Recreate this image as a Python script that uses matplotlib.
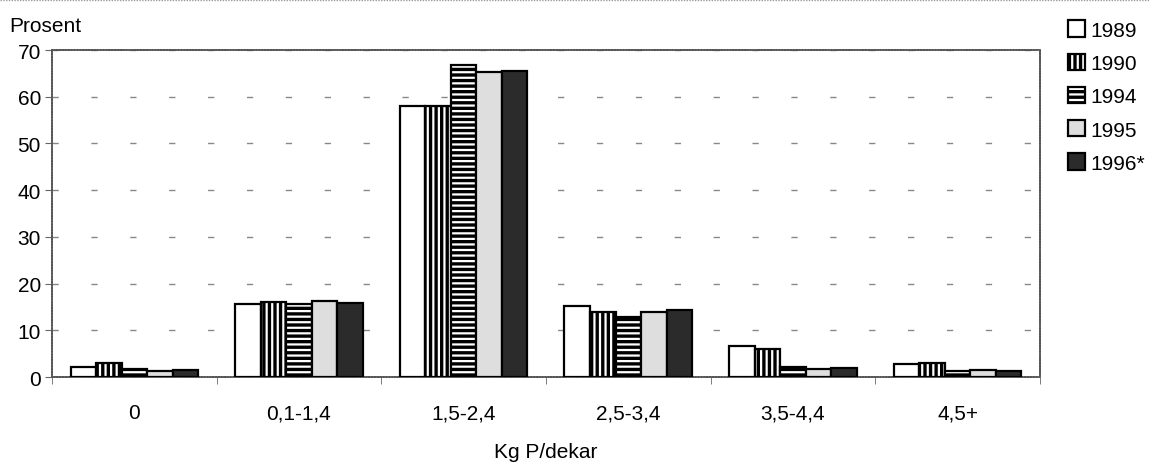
import matplotlib.pyplot as plt
import numpy as np

plt.rcParams['font.family'] = ['Liberation Sans', 'DejaVu Sans']
plt.rcParams['hatch.linewidth'] = 2.4

# data
categories = ["0", "0,1-1,4", "1,5-2,4", "2,5-3,4", "3,5-4,4", "4,5+"]
years = ["1989", "1990", "1994", "1995", "1996*"]
v1989 = [2.1, 15.6, 58.0, 15.2, 6.7, 2.8]
v1990 = [3.1, 16.0, 58.0, 13.9, 6.1, 3.1]
v1994 = [1.7, 15.7, 66.7, 12.8, 2.2, 1.2]
v1995 = [1.35, 16.2, 65.4, 13.9, 1.7, 1.4]
v1996 = [1.4, 15.9, 65.6, 14.3, 1.9, 1.3]
series = [v1989, v1990, v1994, v1995, v1996]

faces = ["white", "white", "white", "#dedede", "#2b2b2b"]
hatches = [None, "|||", "---", None, None]

fig = plt.figure(figsize=(11.49, 4.64), dpi=100)
ax = fig.add_axes([0.0453, 0.1853, 0.8597, 0.7047])

x = np.arange(len(categories))
w = 0.155
for i, vals in enumerate(series):
    ax.bar(x + (i - 2) * w, vals, width=w, color=faces[i], edgecolor="black",
           linewidth=1.6, hatch=hatches[i], label=years[i], zorder=3)

ax.set_xlim(-0.5, len(categories) - 0.5)
ax.set_ylim(0, 70)
ax.set_yticks(range(0, 71, 10))
ax.set_xticks(x)
ax.set_xticklabels(categories)
ax.set_xticks(np.arange(-0.5, len(categories), 1), minor=True)
ax.tick_params(axis="x", which="major", length=0, pad=19, labelsize=15)
ax.tick_params(axis="x", which="minor", length=5, color="#666666")
ax.tick_params(axis="y", length=5, color="#666666", labelsize=15, pad=3)

ax.yaxis.grid(True, color="#888888", linewidth=1, linestyle=(0, (4.5, 23.5)))
for s in ax.spines.values():
    s.set_color("#555555")
    s.set_linewidth(1.3)
    s.set_linestyle((0, (1, 0.6)))

fig.text(0.008, 0.93, "Prosent", fontsize=15)
fig.text(0.475, 0.012, "Kg P/dekar", fontsize=15, ha="center")

ax.legend(loc="upper left", bbox_to_anchor=(0.9225, 0.972), bbox_transform=fig.transFigure,
          frameon=False, fontsize=15, handlelength=0.82, handleheight=0.82,
          handletextpad=0.25, labelspacing=0.67, borderaxespad=0)

# dotted top border of the scanned page
fig.add_artist(plt.Line2D([0, 1], [0.998, 0.998], transform=fig.transFigure,
                          color="#999999", linewidth=1, linestyle=(0, (1, 1))))

plt.savefig("out.png", dpi=100)
